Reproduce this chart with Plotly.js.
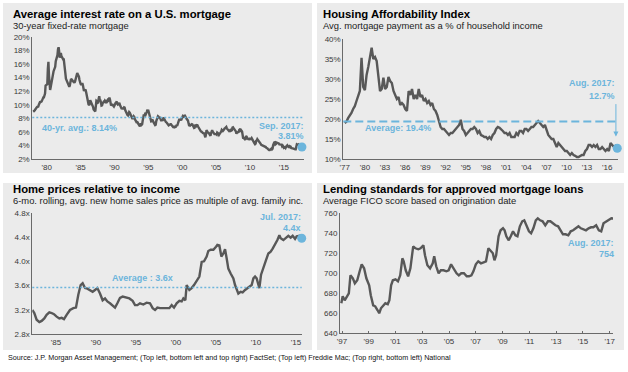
<!DOCTYPE html>
<html><head><meta charset="utf-8">
<script src="https://cdn.plot.ly/plotly-3.0.1.min.js"></script>
<style>html,body{margin:0;padding:0;background:#fff;}#chart{width:628px;height:372px;}</style>
</head><body><div id="chart"></div>
<script>
// ---------- DATA ----------
// Panel 1: 30-year fixed mortgage rate, monthly from Jan 1978 to Sep 2017 (%)
const rateStartYear = 1978;
const rateValues = [
8.98,9.03,9.13,9.20,9.35,9.51,9.67,9.70,9.70,9.73,10.02,10.30,
10.39,10.41,10.43,10.50,10.69,11.04,11.09,11.09,11.30,11.64,12.83,12.90,
12.88,13.04,15.28,16.32,14.26,12.71,12.19,12.56,13.20,13.79,14.21,14.79,
14.90,15.13,15.40,15.58,16.40,16.70,16.83,17.29,18.16,18.45,17.83,16.92,
17.40,17.60,17.16,16.89,16.68,16.70,16.82,16.27,15.43,14.61,13.83,13.62,
13.25,13.04,12.80,12.78,12.63,12.87,13.42,13.81,13.73,13.54,13.44,13.42,
13.37,13.23,13.39,13.65,13.94,14.42,14.67,14.47,14.35,14.13,13.64,13.18,
13.08,12.92,13.17,13.20,12.91,12.22,12.03,12.19,12.19,12.14,11.78,11.26,
10.88,10.71,10.08,9.94,10.14,10.68,10.51,10.20,10.01,9.98,9.70,9.32,
9.20,9.08,9.04,9.83,10.60,10.54,10.28,10.33,10.89,11.26,10.65,10.64,
10.38,9.89,9.93,10.20,10.46,10.46,10.43,10.60,10.48,10.30,10.27,10.61,
10.73,10.65,11.03,11.05,10.77,10.20,9.88,9.99,10.13,9.95,9.77,9.74,
9.90,10.20,10.27,10.37,10.48,10.16,10.04,10.10,10.18,10.17,9.89,9.67,
9.64,9.37,9.50,9.49,9.47,9.62,9.58,9.24,9.01,8.86,8.71,8.50,
8.43,8.76,8.94,8.85,8.67,8.51,8.13,7.98,7.92,8.09,8.31,8.22,
7.92,7.71,7.46,7.46,7.47,7.42,7.21,7.11,6.92,6.83,7.16,7.17,
7.06,7.15,7.68,8.32,8.60,8.40,8.61,8.51,8.64,8.93,9.17,9.20,
9.15,8.83,8.46,8.32,7.96,7.57,7.61,7.86,7.64,7.48,7.38,7.20,
7.03,7.08,7.62,7.93,8.07,8.32,8.25,8.00,8.23,7.92,7.62,7.60,
7.82,7.65,7.90,8.14,7.94,7.69,7.50,7.48,7.43,7.29,7.21,7.10,
6.99,7.04,7.13,7.14,7.14,7.00,6.95,6.92,6.72,6.71,6.87,6.72,
6.79,6.81,7.04,6.92,7.15,7.55,7.63,7.94,7.82,7.85,7.74,7.91,
8.21,8.33,8.24,8.15,8.52,8.29,8.15,8.03,7.91,7.80,7.75,7.38,
7.03,7.05,6.95,7.08,7.15,7.16,7.13,6.95,6.82,6.62,6.66,7.07,
7.00,6.89,7.01,6.99,6.81,6.65,6.49,6.29,6.09,6.11,6.07,6.05,
5.92,5.84,5.75,5.81,5.48,5.23,5.63,6.26,6.15,5.95,5.93,5.88,
5.71,5.64,5.45,5.83,6.27,6.29,6.06,5.87,5.75,5.72,5.73,5.75,
5.71,5.63,5.93,5.86,5.72,5.58,5.70,5.82,5.77,6.07,6.33,6.27,
6.15,6.25,6.32,6.51,6.60,6.68,6.76,6.52,6.40,6.36,6.24,6.14,
6.22,6.29,6.16,6.18,6.26,6.66,6.70,6.57,6.38,6.38,6.21,6.10,
5.76,5.92,5.97,5.92,6.04,6.32,6.43,6.48,6.04,6.20,6.09,5.29,
5.06,5.13,5.00,4.81,4.86,5.42,5.22,5.19,5.06,4.95,4.88,4.93,
5.03,4.99,4.97,5.10,4.89,4.74,4.56,4.43,4.35,4.23,4.30,4.71,
4.76,4.95,4.84,4.84,4.64,4.51,4.55,4.27,4.11,4.07,3.99,3.96,
3.92,3.89,3.95,3.91,3.80,3.68,3.55,3.60,3.50,3.38,3.35,3.35,
3.41,3.53,3.57,3.45,3.54,4.07,4.37,4.46,4.49,4.19,4.26,4.46,
4.43,4.30,4.34,4.34,4.19,4.16,4.13,4.12,4.16,3.92,4.00,3.86,
3.67,3.71,3.77,3.67,3.84,3.98,4.05,3.91,3.89,3.80,3.94,3.96,
3.87,3.66,3.69,3.61,3.60,3.57,3.44,3.44,3.46,3.47,3.77,4.20,
4.15,4.17,4.20,4.05,4.01,3.90,3.97,3.88,3.81];
const rateAvg = 8.14;
const rateTickVals = [1980,1985,1990,1995,2000,2005,2010,2015];
const rateTickText = ["'80","'85","'90","'95","'00","'05","'10","'15"];
const rateYTickVals = [2,4,6,8,10,12,14,16,18,20];
const rateYTickText = ["2%","4%","6%","8%","10%","12%","14%","16%","18%","20%"];

// Panel 2: Housing affordability index, quarterly from 1977 (% of income)
const affStartYear = 1977;
const affValues = [
19.0,19.3,20.2,20.8, 21.5,22.5,23.2,24.5, 25.8,27.0,35.3,28.0,
27.2,31.0,33.0,36.0, 37.8,35.0,35.5,34.5, 30.5,27.0,27.5,30.3,
27.5,28.0,30.5,29.5, 29.0,27.0,26.0,25.0, 25.5,23.5,24.0,23.5,
22.5,22.0,27.0,26.0, 27.5,25.0,26.0,25.0, 27.5,25.5,26.0,24.5,
25.0,24.0,24.5,23.5, 24.0,22.5,22.0,21.0, 19.5,18.0,17.5,17.5,
17.0,16.5,16.0,16.5, 16.5,17.0,17.5,18.0, 18.5,19.8,17.5,17.0,
16.0,16.5,17.0,17.5, 17.5,18.0,17.5,16.5, 17.0,16.0,15.8,15.5,
15.5,15.0,15.5,15.0, 16.0,16.5,17.5,18.0, 17.8,17.5,17.0,16.5,
16.5,16.0,16.5,15.5, 15.5,15.5,16.5,16.0, 17.0,17.0,16.5,17.5,
17.5,17.0,17.5,18.0, 18.0,18.5,19.0,19.5, 19.0,18.5,18.0,18.5,
17.0,16.0,15.5,15.0, 15.0,14.0,13.0,14.0, 13.5,13.0,12.5,12.0,
12.0,11.5,11.0,11.5, 11.0,10.8,10.5,10.5, 10.8,11.0,11.0,12.0,
12.5,13.5,13.5,13.0, 13.5,13.0,13.5,12.5, 12.5,13.0,12.5,12.0,
12.5,12.0,14.0,13.5, 13.0,13.3,12.7];
const affAvg = 19.4;
const affTickVals = [1977,1980,1983,1986,1989,1992,1995,1998,2001,2004,2007,2010,2013,2016];
const affTickText = ["'77","'80","'83","'86","'89","'92","'95","'98","'01","'04","'07","'10","'13","'16"];
const affYTickVals = [10,15,20,25,30,35,40];
const affYTickText = ["10%","15%","20%","25%","30%","35%","40%"];

// Panel 3: Home prices relative to income (multiple)
const priceYears = [1982.04,1982.29,1982.58,1982.92,1983.21,1983.54,1983.83,1984.17,1984.46,1984.75,
1985.08,1985.42,1985.71,1986.0,1986.33,1986.75,1987.17,1987.5,1987.79,1988.08,1988.33,1988.63,1988.92,
1989.25,1989.58,1989.88,1990.17,1990.5,1990.83,1991.13,1991.42,1991.75,1992.08,1992.38,1992.67,1993.0,
1993.33,1993.75,1994.17,1994.58,1994.88,1995.17,1995.5,1995.92,1996.33,1996.75,1997.08,1997.38,1997.67,
1998.0,1998.42,1998.83,1999.17,1999.46,1999.75,2000.08,2000.42,2000.71,2000.92,2001.17,2001.33,2001.67,
2001.96,2002.25,2002.58,2002.92,2003.21,2003.5,2003.83,2004.04,2004.33,2004.67,2005.0,2005.17,2005.42,
2005.67,2005.92,2006.13,2006.33,2006.54,2006.83,2007.17,2007.38,2007.58,2007.79,2008.08,2008.33,2008.63,
2008.92,2009.25,2009.46,2009.67,2009.88,2010.08,2010.29,2010.42,2010.63,2010.92,2011.25,2011.54,2011.83,
2012.08,2012.38,2012.67,2012.92,2013.08,2013.42,2013.75,2014.04,2014.33,2014.58,2014.88,2015.08,2015.42,2015.71];
const priceValues = [3.20,3.15,3.04,3.00,3.02,3.06,3.12,3.16,3.15,3.13,
3.09,3.06,3.07,3.05,3.12,3.20,3.23,3.24,3.45,3.61,3.64,3.56,3.55,
3.53,3.50,3.53,3.56,3.47,3.36,3.39,3.34,3.31,3.28,3.24,3.31,3.40,
3.42,3.41,3.39,3.35,3.28,3.28,3.31,3.29,3.32,3.31,3.23,3.20,3.24,
3.23,3.23,3.24,3.23,3.28,3.24,3.31,3.35,3.34,3.39,3.36,3.61,3.53,
3.56,3.61,3.67,3.75,3.99,4.00,4.08,4.17,4.19,4.19,4.24,4.27,4.26,
4.08,4.13,4.20,4.05,3.88,3.80,3.72,3.61,3.53,3.47,3.50,3.49,3.53,
3.56,3.59,3.61,3.72,3.75,3.72,3.64,3.56,3.78,3.91,4.02,4.13,4.16,
4.21,4.27,4.35,4.43,4.38,4.35,4.39,4.42,4.39,4.42,4.37,4.41,4.42,4.38];
const priceAvg = 3.57;
const priceTickVals = [1985,1990,1995,2000,2005,2010,2015];
const priceTickText = ["'85","'90","'95","'00","'05","'10","'15"];
const priceYTickVals = [2.8,3.2,3.6,4.0,4.4,4.8];
const priceYTickText = ["2.8x","3.2x","3.6x","4.0x","4.4x","4.8x"];

// Panel 4: Average FICO score on originations
const ficoYears = [1996.95,1997.05,1997.2,1997.38,1997.51,1997.63,1997.81,1997.96,1998.14,1998.32,1998.47,
1998.65,1998.82,1999.03,1999.15,1999.33,1999.48,1999.66,1999.78,1999.91,2000.04,2000.24,2000.42,2000.54,
2000.67,2000.8,2001.0,2001.18,2001.35,2001.51,2001.61,2001.76,2001.94,2002.11,2002.32,2002.49,2002.7,
2002.87,2003.08,2003.2,2003.38,2003.58,2003.78,2003.89,2004.04,2004.22,2004.39,2004.59,2004.8,2004.97,
2005.15,2005.35,2005.56,2005.73,2005.91,2006.11,2006.32,2006.49,2006.67,2006.82,2007.0,2007.18,2007.38,
2007.58,2007.76,2007.94,2008.09,2008.27,2008.39,2008.52,2008.7,2008.85,2009.03,2009.15,2009.28,2009.46,
2009.61,2009.78,2009.96,2010.11,2010.29,2010.47,2010.62,2010.8,2010.97,2011.13,2011.3,2011.48,2011.63,
2011.81,2011.99,2012.19,2012.39,2012.57,2012.75,2012.95,2013.15,2013.33,2013.51,2013.71,2013.91,2014.09,
2014.27,2014.47,2014.67,2014.85,2015.03,2015.23,2015.43,2015.61,2015.78,2015.99,2016.19,2016.37,2016.54,
2016.75,2016.95,2017.13,2017.58];
const ficoValues = [670,677,673,678,680,698,695,690,693,702,709,
705,695,688,678,668,667,663,660,665,667,670,669,673,
688,693,694,692,698,715,712,703,697,705,727,725,724,
725,728,718,708,705,710,717,707,700,703,703,702,703,
709,705,700,698,700,700,697,697,698,702,709,712,710,
711,712,725,723,720,713,718,737,743,745,743,737,733,
737,742,738,737,747,752,753,748,742,740,745,753,755,
753,752,748,752,752,750,748,747,743,739,739,738,742,
743,745,747,745,744,743,745,746,746,748,743,742,750,
752,753,755,754];
const ficoTickVals = [1997,1999,2001,2003,2005,2007,2009,2011,2013,2015,2017];
const ficoTickText = ["'97","'99","'01","'03","'05","'07","'09","'11","'13","'15","'17"];
const ficoYTickVals = [640,660,680,700,720,740,760];
const ficoYTickText = ["640","660","680","700","720","740","760"];

// ---------- BUILD ----------
const W = 628, H = 372;
const FONT = "Liberation Sans, Arial, sans-serif";
const GRAY = "#585858", BLUE = "#6cb5dc", AXC = "#6a6a6a", TXT = "#3a3a3a";
const PX = x => x / W, PY = y => 1 - y / H;

const rateX = rateValues.map((_, i) => rateStartYear + i / 12);
const affX = affValues.map((_, i) => affStartYear + i / 4);

function xa(dom, range, tv, tt, anchor, ticks) {
  return {domain: [PX(dom[0]), PX(dom[1])], range, tickmode: 'array', tickvals: tv, ticktext: tt,
    showline: true, linecolor: AXC, linewidth: 1, showgrid: false, zeroline: false,
    ticks: ticks || '', ticklen: 2, tickcolor: AXC, tickfont: {size: 8, color: TXT, family: FONT},
    anchor, fixedrange: true};
}
function ya(dom, range, tv, tt, anchor) {
  return {domain: [PY(dom[1]), PY(dom[0])], range, tickmode: 'array', tickvals: tv, ticktext: tt,
    showline: true, linecolor: AXC, linewidth: 1, showgrid: false, zeroline: false,
    ticks: '', tickfont: {size: 8, color: TXT, family: FONT}, anchor, fixedrange: true};
}
function lineTrace(x, y, xr, yr) {
  return {x, y, xaxis: xr, yaxis: yr, type: 'scatter', mode: 'lines',
    line: {color: GRAY, width: 2.4}, hoverinfo: 'skip', showlegend: false};
}
function dotTrace(x, y, xr, yr) {
  return {x: [x[x.length - 1]], y: [y[y.length - 1]], xaxis: xr, yaxis: yr, type: 'scatter', mode: 'markers',
    marker: {color: BLUE, size: 9}, cliponaxis: false, hoverinfo: 'skip', showlegend: false};
}

const data = [
  lineTrace(rateX, rateValues, 'x', 'y'), dotTrace(rateX, rateValues, 'x', 'y'),
  lineTrace(affX, affValues, 'x2', 'y2'), dotTrace(affX, affValues, 'x2', 'y2'),
  lineTrace(priceYears, priceValues, 'x3', 'y3'), dotTrace(priceYears, priceValues, 'x3', 'y3'),
  lineTrace(ficoYears, ficoValues, 'x4', 'y4'), dotTrace(ficoYears, ficoValues, 'x4', 'y4')
];

function panel(x0, y0, x1, y1) {
  return {type: 'rect', xref: 'paper', yref: 'paper', x0: PX(x0), x1: PX(x1), y0: PY(y1), y1: PY(y0),
    fillcolor: '#ebebeb', line: {width: 0}, layer: 'below'};
}
function avgLine(xr, yr, v, dash, w) {
  return {type: 'line', xref: xr + ' domain', yref: yr, x0: 0, x1: 1, y0: v, y1: v,
    line: {color: BLUE, width: w, dash}, layer: 'above'};
}
function txt(text, x, y, size, opts) {
  return Object.assign({text, xref: 'paper', yref: 'paper', x: PX(x), y: PY(y), showarrow: false,
    xanchor: 'left', yanchor: 'middle', font: {size, family: FONT, color: '#000'}}, opts || {});
}
const bold = s => '<b>' + s + '</b>';
const blueFont = {size: 9, family: FONT, color: BLUE};
const subFont = {size: 9.4, family: FONT, color: '#222'};

const annotations = [
  txt(bold('Average interest rate on a U.S. mortgage'), 11, 14, 11.3),
  txt('30-year fixed-rate mortgage', 11, 25.5, 9.4, {font: subFont}),
  txt(bold('40-yr. avg.: ' + rateAvg.toFixed(2) + '%'), 40, 128, 9, {font: blueFont}),
  txt(bold('Sep. 2017:'), 306, 126, 9, {font: blueFont, xanchor: 'right'}),
  txt(bold(rateValues[rateValues.length - 1].toFixed(2) + '%'), 306, 136, 9, {font: blueFont, xanchor: 'right'}),

  txt(bold('Housing Affordability Index'), 321, 14, 11.3),
  txt('Avg. mortgage payment as a % of household income', 321, 25.5, 9.4, {font: subFont}),
  txt(bold('Average: ' + affAvg.toFixed(1) + '%'), 363, 128, 9, {font: blueFont}),
  txt(bold('Aug. 2017:'), 617, 83, 9, {font: blueFont, xanchor: 'right'}),
  txt(bold(affValues[affValues.length - 1].toFixed(1) + '%'), 617, 96, 9, {font: blueFont, xanchor: 'right'}),
  {x: 2017.3, y: 15.6, xref: 'x2', yref: 'y2', text: '', showarrow: true, ax: 0, ay: -34,
   arrowcolor: BLUE, arrowwidth: 1, arrowhead: 2, arrowsize: 1},

  txt(bold('Home prices relative to income'), 11, 189, 11.3),
  txt('6-mo. rolling, avg. new home sales price as multiple of avg. family inc.', 11, 200, 9.4, {font: subFont}),
  txt(bold('Average : 3.6x'), 110, 278, 9, {font: blueFont}),
  txt(bold('Jul. 2017:'), 303, 217, 9, {font: blueFont, xanchor: 'right'}),
  txt(bold('4.4x'), 303, 227.5, 9, {font: blueFont, xanchor: 'right'}),

  txt(bold('Lending standards for approved mortgage loans'), 321, 189, 11.3),
  txt('Average FICO score based on origination date', 321, 200, 9.4, {font: subFont}),
  txt(bold('Aug. 2017:'), 616, 243, 9, {font: blueFont, xanchor: 'right'}),
  txt(bold(String(ficoValues[ficoValues.length - 1])), 616, 254, 9, {font: blueFont, xanchor: 'right'}),

  txt('Source: J.P. Morgan Asset Management; (Top left, bottom left and top right) FactSet; (Top left) Freddie Mac; (Top right, bottom left) National',
      6, 357.5, 7.2, {font: {size: 7.2, family: FONT, color: '#111'}})
];

const layout = {
  width: W, height: H, margin: {l: 0, r: 0, t: 0, b: 0},
  paper_bgcolor: '#ffffff', plot_bgcolor: 'rgba(0,0,0,0)', showlegend: false,
  font: {family: FONT},
  xaxis: xa([32.3, 303.5], [1977.87, 2017.9], rateTickVals, rateTickText, 'y'),
  yaxis: ya([36.7, 159.3], [2, 20], rateYTickVals, rateYTickText, 'x'),
  xaxis2: xa([343.3, 618], [1976.79, 2017.61], affTickVals, affTickText, 'y2'),
  yaxis2: ya([39, 159], [10, 40], affYTickVals, affYTickText, 'x2'),
  xaxis3: xa([32.3, 301.7], [1982.04, 2015.71], priceTickVals, priceTickText, 'y3'),
  yaxis3: ya([212.7, 334.3], [2.8, 4.8], priceYTickVals, priceYTickText, 'x3'),
  xaxis4: xa([340, 613], [1996.85, 2017.25], ficoTickVals, ficoTickText, 'y4', 'inside'),
  yaxis4: ya([213.3, 333.3], [640, 760], ficoYTickVals, ficoYTickText, 'x4'),
  shapes: [
    panel(3, 3, 312, 173), panel(317, 3, 624, 173), panel(3, 183, 312, 350), panel(317, 183, 624, 350),
    avgLine('x', 'y', rateAvg, '2px,2px', 1.5),
    avgLine('x2', 'y2', affAvg, '8px,4px', 2),
    avgLine('x3', 'y3', priceAvg, '2px,2px', 1.5)
  ],
  annotations
};

Plotly.newPlot('chart', data, layout, {staticPlot: true, displayModeBar: false});
</script>
</body></html>
